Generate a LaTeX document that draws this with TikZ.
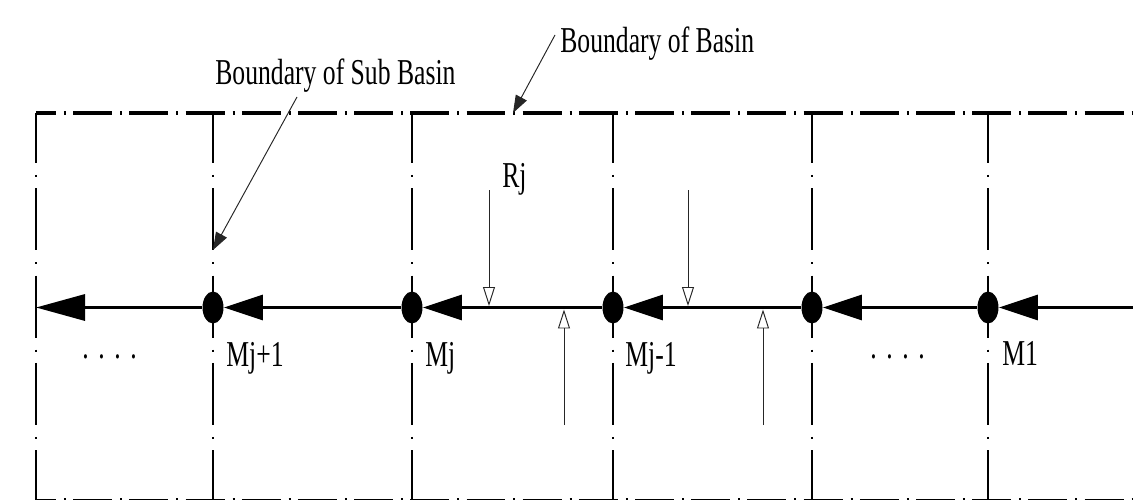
\documentclass[tikz,border=0pt]{standalone}
\usepackage{fontspec}
\setmainfont{Liberation Serif}
\usetikzlibrary{arrows.meta,shapes.geometric}
\newcommand\talltext[1]{\scalebox{1}[1.42]{#1}}
\begin{document}
\begin{tikzpicture}[x=0.02cm,y=-0.02cm,
  hbound/.style={line width=1.71pt, dash pattern=on 22.19pt off 9.79pt, dash phase=10.81pt,
    preaction={draw, line width=2.6pt, dash pattern=on 1.14pt off 30.84pt, dash phase=16.05pt}},
  vbound/.style={line width=1.6pt, dash pattern=on 35.28pt off 6.83pt on 1.14pt off 6.45pt, dash phase=6.83pt},
  mdot/.style={ellipse, fill=black, minimum width=0.42cm, minimum height=0.64cm, inner sep=0pt},
  flow/.style={line width=1.85pt, -{Triangle[length=22.2pt,width=14.2pt]}},
  outflow/.style={line width=1.85pt, -{Triangle[length=27.9pt,width=14.8pt]}},
  inflow/.style={line width=0.55pt, black!85, -{Triangle[open,length=10.8pt,width=6.8pt]}},
  pointer/.style={line width=0.55pt, black!85, -{Triangle[length=10pt,width=7pt]}},
  lbl/.style={anchor=base west, inner sep=0pt, font=\fontsize{14.6pt}{17pt}\selectfont}
]
\useasboundingbox (0,0) rectangle (1133,500);

% basin boundary (top and bottom)
\coordinate (tl) at (36,113);
\coordinate (tr) at (1140,113);
\coordinate (bl) at (36,500.5);
\coordinate (br) at (1140,500.5);
\draw[hbound] (tl) -- (tr);
\draw[hbound] (bl) -- (br);

% sub-basin boundaries
\foreach \x/\n in {36/1,213/2,412/3,613/4,812/5,988/6}{
  \coordinate (v\n t) at (\x,113);
  \coordinate (v\n b) at (\x,506);
  \draw[vbound] (v\n t) -- (v\n b);
}

% river nodes
\coordinate (ml) at (36,307.5);
\coordinate (mr) at (1140,307.5);
\node[mdot] (d5) at (213,307.5) {};
\node[mdot] (d4) at (412,307.5) {};
\node[mdot] (d3) at (613,307.5) {};
\node[mdot] (d2) at (812,307.5) {};
\node[mdot] (d1) at (988,307.5) {};

\draw[flow] (mr) -- (d1);
\draw[flow] (d1) -- (d2);
\draw[flow] (d2) -- (d3);
\draw[flow] (d3) -- (d4);
\draw[flow] (d4) -- (d5);
\draw[outflow] (d5) -- (ml);

% node labels
\node[lbl] (lmj1) at (226,366) {\talltext{Mj+1}};
\node[lbl] (lmj) at (425,366) {\talltext{Mj}};
\node[lbl] (lmjm) at (625,366) {\talltext{Mj-1}};
\node[lbl] (lm1) at (1002,365) {\talltext{M1}};
\node[lbl] (dotsa) at (82,358) {\talltext{.\hskip5.46pt.\hskip5.46pt.\hskip5.46pt.}};
\node[lbl] (dotsb) at (870,358) {\talltext{.\hskip5.46pt.\hskip5.46pt.\hskip5.46pt.}};

% inflows
\coordinate (r1s) at (489,190); \coordinate (r1e) at (489,306);
\coordinate (r2s) at (688,190); \coordinate (r2e) at (688,306);
\coordinate (u1s) at (564,425); \coordinate (u1e) at (564,309.5);
\coordinate (u2s) at (763,425); \coordinate (u2e) at (763,309.5);
\draw[inflow] (r1s) -- (r1e);
\draw[inflow] (r2s) -- (r2e);
\draw[inflow] (u1s) -- (u1e);
\draw[inflow] (u2s) -- (u2e);
\node[lbl] (rj) at (502,188) {\talltext{Rj}};

% annotations
\node[lbl] (lbasin) at (560,53) {\talltext{Boundary of Basin}};
\node[lbl] (lsub) at (215,85) {\talltext{Boundary of Sub Basin}};
\coordinate (pb1) at (555,35); \coordinate (pb2) at (513,113);
\coordinate (ps1) at (297,97); \coordinate (ps2) at (213,250);
\draw[pointer] (pb1) -- (pb2);
\draw[pointer] (ps1) -- (ps2);
\end{tikzpicture}
\end{document}
